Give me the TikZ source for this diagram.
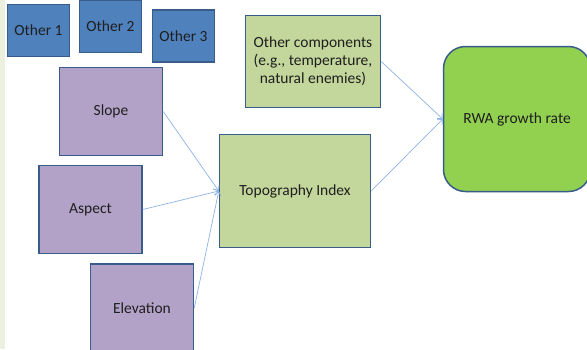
\documentclass[tikz,border=0pt]{standalone}
\usepackage{fontspec}
\setmainfont{Carlito}
\usepackage{tikz}
\usetikzlibrary{arrows.meta}

\definecolor{boxblue}{HTML}{4F81BD}
\definecolor{boxedge}{HTML}{385D8A}
\definecolor{boxpurple}{HTML}{B3A2C7}
\definecolor{boxgreen}{HTML}{C3D69B}
\definecolor{rwagreen}{HTML}{92D050}
\definecolor{arrowblue}{HTML}{8EB4E3}
\definecolor{stripgreen}{HTML}{EBF1DE}
\definecolor{textgray}{HTML}{1F1F1F}

\begin{document}
\begin{tikzpicture}[x = 1pt, y = -1pt,
	box/.style = {rectangle, draw = boxedge, line width = 1.5pt, inner sep = 0pt, text = textgray, font = \fontsize{15.5}{18}\selectfont, align = center},
	other/.style = {box, fill = boxblue, minimum width = 62pt, minimum height = 52pt},
	factor/.style = {box, fill = boxpurple, minimum width = 103pt, minimum height = 88pt},
	link/.style = {-{Straight Barb[length = 4pt, width = 7pt]}, arrowblue, line width = 0.7pt}]

\useasboundingbox (0, 0) rectangle (587, 349);

%% Background

\fill [white] (0, 0) rectangle (587, 349);
\fill [stripgreen] (0, 0) rectangle (5, 349);

%% Other factors

\node[other] (other1) at (38.5, 30.5) {Other 1};
\node[other] (other2) at (110.5, 26.5) {Other 2};
\node[other] (other3) at (183.5, 36) {Other 3};

%% Topography factors

\node[factor] (slope) at (111, 111.5) {Slope};
\node[factor] (aspect) at (90.5, 209.5) {Aspect};
\node[factor] (elevation) at (142, 308) {Elevation};

%% Index and components

\node[box, fill = boxgreen, minimum width = 151pt, minimum height = 113pt] (topo) at (295, 191) {Topography Index};

\node[box, fill = boxgreen, minimum width = 135pt, minimum height = 92pt] (comp) at (313, 61.5) {Other components\\(e.g., temperature,\\natural enemies)};

%% Growth rate

\node[box, fill = rwagreen, rounded corners = 22pt, minimum width = 147pt, minimum height = 145pt] (rwa) at (517, 119) {RWA growth rate};

%% Arrows

\draw[link] (slope.east) -- (topo.west);
\draw[link] (aspect.east) -- (topo.west);
\draw[link] (elevation.east) -- (topo.west);

\draw[link] (comp.east) -- (rwa.west);
\draw[link] (topo.east) -- (rwa.west);

\end{tikzpicture}
\end{document}
